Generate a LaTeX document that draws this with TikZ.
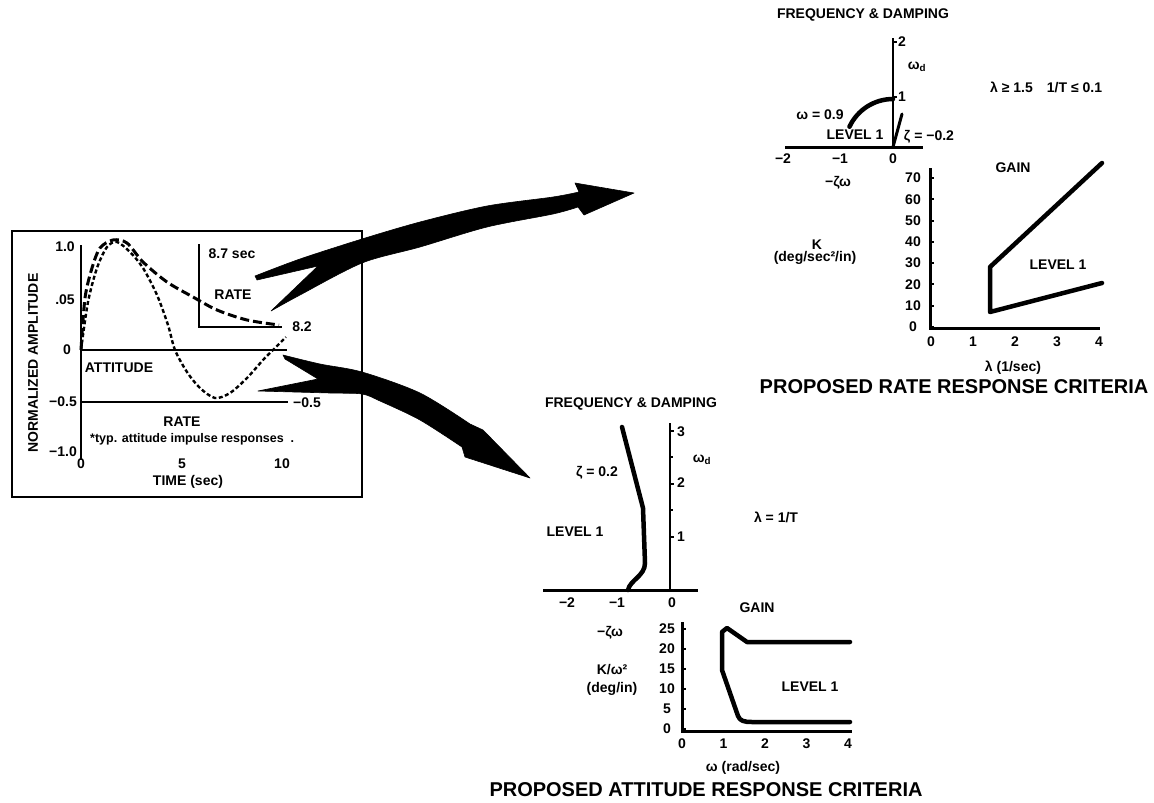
\documentclass[tikz,border=0pt]{standalone}
\usepackage{fontspec}
\setmainfont{Liberation Sans}
\begin{document}
\begin{tikzpicture}[x=1pt,y=-1pt,
  lbl/.style={font=\bfseries\fontsize{14}{16}\selectfont,inner sep=0pt},
  ttl/.style={font=\bfseries\fontsize{20}{22}\selectfont,inner sep=0pt},
  axline/.style={line width=3pt},
  thinax/.style={line width=2pt},
  tick/.style={line width=2pt},
  bound/.style={line width=4.5pt,line join=round,line cap=round},
  swoosh/.style={fill=black,draw=black,line width=0.6pt,line join=round}]
\useasboundingbox (0,0) rectangle (1154,803);

% time response box
\coordinate (O) at (81,350);
\draw[line width=2.2pt] (12,231) rectangle (362,497);
\draw[thinax] (81,245) -- (81,460);
\draw[line width=2.5pt] (O) -- (287,350);
\draw[line width=2.5pt] (81,402) -- (288,402);
\draw[thinax] (199,244) -- (199,327) -- (282,327);
\draw[line width=3pt,dash pattern=on 9pt off 4pt] plot[smooth] coordinates
  {(81,350) (85,298) (92,268) (100,248) (113,240) (127,243) (143,262) (167,282)
   (193,297) (217,310) (247,320) (279,325)};
\draw[line width=2.4pt,dash pattern=on 4pt off 2.5pt] plot[smooth] coordinates
  {(81,350) (88,302) (97,268) (107,247) (117,242) (130,252) (143,268) (157,295)
   (168,325) (175,350) (187,372) (200,388) (215,398) (230,393) (247,378) (263,360)
   (273,350) (286,337)};
\node[lbl] (y10) at (65,247) {1.0};
\node[lbl] (y05) at (65,300) {.05};
\node[lbl] (y00) at (67,350) {0};
\node[lbl] (ym05) at (63,402) {−0.5};
\node[lbl] (ym10) at (63,452) {−1.0};
\node[lbl] (t0) at (81,464) {0};
\node[lbl] (t5) at (182,464) {5};
\node[lbl] (t10) at (282,464) {10};
\node[lbl] (tlab) at (188,482) {TIME (sec)};
\node[lbl,rotate=90] (ylab) at (33,363) {NORMALIZED AMPLITUDE};
\node[lbl] (att) at (119,368) {ATTITUDE};
\node[lbl] (rlow) at (182,422) {RATE};
\node[lbl,anchor=west,font=\bfseries\fontsize{12.5}{14}\selectfont] (typ) at (90,439) {*typ. attitude impulse responses\ \ .};
\node[lbl] (sec) at (232,254) {8.7 sec};
\node[lbl] (rup) at (233,295) {RATE};
\node[lbl] (r82) at (302,327) {8.2};
\node[lbl] (rm05) at (307,403) {−0.5};

% arrows out of the box
\filldraw[swoosh] (255,276) -- plot[smooth] coordinates
  {(255,276) (300,259) (362,239) (420,222) (487,206) (553,197) (579,192)}
  -- (575,183) -- (634,193) -- (584,215) -- plot[smooth] coordinates
  {(578,207) (553,214) (487,227) (420,247) (362,263) (300,295) (271,311)}
  -- (318,266) -- (257,280) -- cycle;
\filldraw[swoosh] (283,355) -- plot[smooth] coordinates
  {(283,355) (320,364) (362,372) (420,393) (470,424)}
  -- (483,430) -- (530,478) -- (465,457) -- plot[smooth] coordinates
  {(462,447) (420,420) (380,401) (362,394) (330,393) (258,391)}
  -- (318,379) -- (285,359) -- cycle;

% rate: frequency and damping
\coordinate (RF) at (893,147);
\draw[axline] (785,147) -- (923,147);
\draw[thinax] (893,38) -- (RF);
\draw[tick] (893,42) -- +(4,0) (893,97) -- +(4,0);
\draw[bound] (RF) ++(-155:48) arc[start angle=-155,end angle=-90,radius=48];
\draw[line width=3pt,line cap=round] (RF) -- (902,114);
\node[lbl] (rft) at (863,15) {FREQUENCY \& DAMPING};
\node[lbl] (rf2) at (902,42) {2};
\node[lbl] (rf1) at (902,97) {1};
\node[lbl] (rfwd) at (917,67) {ω\textsubscript{d}};
\node[lbl] (rfw) at (820,115) {ω = 0.9};
\node[lbl] (rflv) at (855,135) {LEVEL 1};
\node[lbl] (rfz) at (929,137) {ζ = −0.2};
\node[lbl] (rfm2) at (783,159) {−2};
\node[lbl] (rfm1) at (840,159) {−1};
\node[lbl] (rf0) at (893,159) {0};
\node[lbl] (rfzw) at (838,183) {−ζω};
\node[lbl,anchor=west] (rflam) at (990,87) {λ ≥ 1.5\quad 1/T ≤ 0.1};

% rate: gain
\draw[axline] (930,168) -- (930,328) -- (1100,328);
\foreach \k in {0,10,...,70}{
  \node[lbl] (rk\k) at (913,{327-2.13*\k}) {\k};
  \draw[tick] (930,{327-2.13*\k}) -- +(4,0);}
\foreach \l in {0,...,4}
  \node[lbl] (rl\l) at ({931+42*\l},342) {\l};
\draw[bound] (1102,163) -- (990,267) -- (990,312) -- (1102,283);
\node[lbl] (rgn) at (1013,168) {GAIN};
\node[lbl] (rgk) at (817,245) {K};
\node[lbl] (rgu) at (815,258) {(deg/sec²/in)};
\node[lbl] (rglv) at (1058,265) {LEVEL 1};
\node[lbl] (rgx) at (1013,368) {λ (1/sec)};
\node[ttl] (rtitle) at (954,387) {PROPOSED RATE RESPONSE CRITERIA};

% attitude: frequency and damping
\coordinate (AF) at (670,590);
\draw[axline] (543,590) -- (698,590);
\draw[thinax] (670,423) -- (AF);
\foreach \q in {1,2,3}
  \draw[tick] (670,{590-53*\q}) -- +(4,0);
\foreach \q in {1,2}
  \draw[tick] (670,{563-53*\q}) -- +(3,0);
\draw[bound] (622,427) -- (643,508) -- (645,563) .. controls (645,576) and (630,580) .. (628,590);
\node[lbl] (aft) at (631,404) {FREQUENCY \& DAMPING};
\node[lbl] (af3) at (681,432) {3};
\node[lbl] (af2) at (681,483) {2};
\node[lbl] (af1) at (681,537) {1};
\node[lbl] (afwd) at (702,460) {ω\textsubscript{d}};
\node[lbl] (afz) at (597,473) {ζ = 0.2};
\node[lbl] (aflv) at (575,532) {LEVEL 1};
\node[lbl] (aflam) at (776,517) {λ = 1/T};
\node[lbl] (afm2) at (567,603) {−2};
\node[lbl] (afm1) at (617,603) {−1};
\node[lbl] (af0) at (672,603) {0};
\node[lbl] (afzw) at (610,633) {−ζω};

% attitude: gain
\draw[axline] (682,622) -- (682,731) -- (852,731);
\foreach \k in {0,5,...,25}{
  \node[lbl] (ak\k) at (667,{729-4*\k}) {\k};
  \draw[tick] (682,{729-4*\k}) -- +(4,0);}
\foreach \w in {0,...,4}
  \node[lbl] (aw\w) at ({682+41.5*\w},744) {\w};
\draw[bound] (850,642) -- (747,642) -- (727,628) -- (722,632) -- (722,670) -- (738,716)
  .. controls (740,721) and (744,722) .. (752,722) -- (850,722);
\node[lbl] (agn) at (757,608) {GAIN};
\node[lbl] (agk) at (612,670) {K/ω²};
\node[lbl] (agu) at (612,689) {(deg/in)};
\node[lbl] (aglv) at (810,687) {LEVEL 1};
\node[lbl] (agx) at (743,768) {ω (rad/sec)};
\node[ttl] (atitle) at (706,790) {PROPOSED ATTITUDE RESPONSE CRITERIA};
\end{tikzpicture}
\end{document}
